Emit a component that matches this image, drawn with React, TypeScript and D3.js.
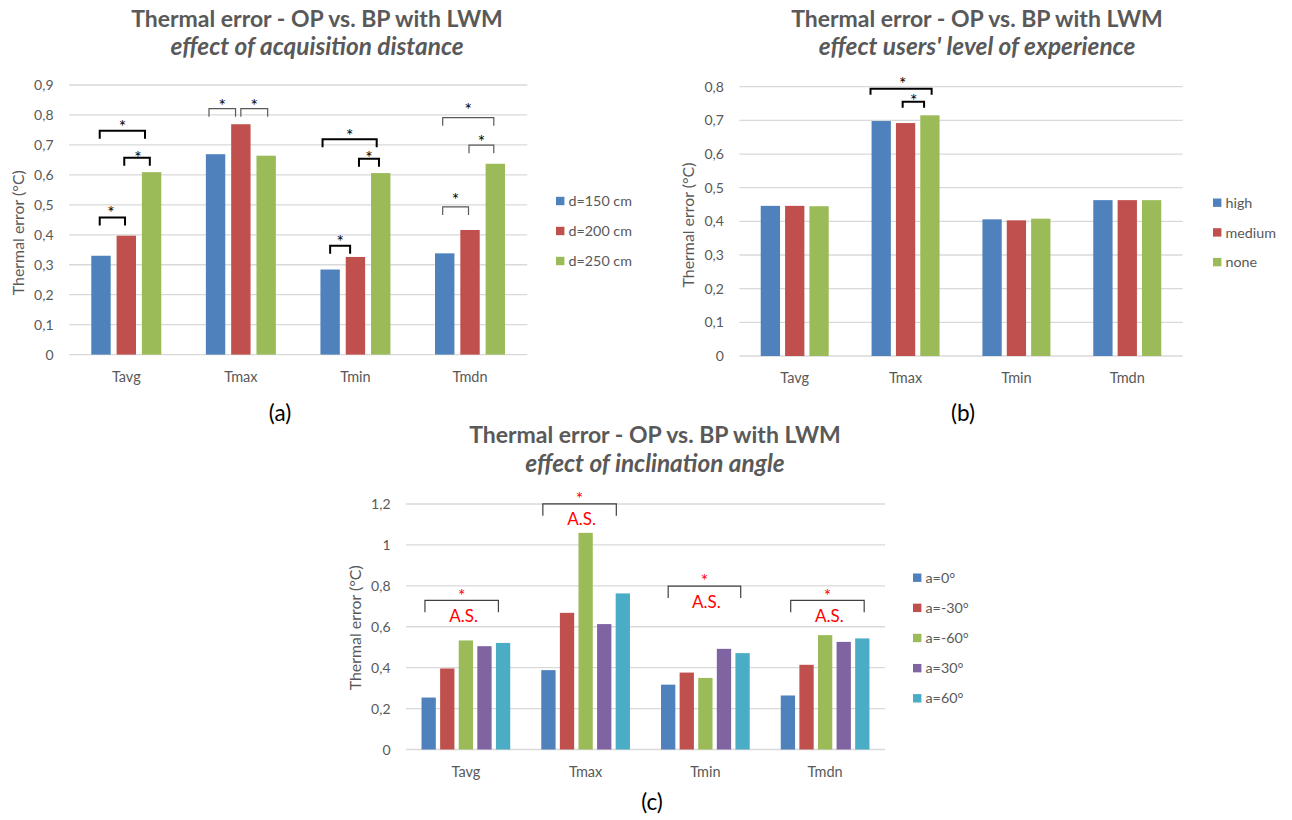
import React from 'react';
import * as d3 from 'd3';

// Shared categories
const categories = ['Tavg', 'Tmax', 'Tmin', 'Tmdn'];

// (a) effect of acquisition distance
const distanceSeries = ['d=150 cm', 'd=200 cm', 'd=250 cm'];
const distance150 = [0.33, 0.669, 0.284, 0.338];
const distance200 = [0.397, 0.769, 0.326, 0.416];
const distance250 = [0.609, 0.664, 0.606, 0.637];
const distanceTicks = [0, 0.1, 0.2, 0.3, 0.4, 0.5, 0.6, 0.7, 0.8, 0.9];

// (b) effect of users' level of experience
const experienceSeries = ['high', 'medium', 'none'];
const experienceHigh = [0.446, 0.698, 0.406, 0.463];
const experienceMedium = [0.446, 0.692, 0.403, 0.463];
const experienceNone = [0.445, 0.715, 0.408, 0.463];
const experienceTicks = [0, 0.1, 0.2, 0.3, 0.4, 0.5, 0.6, 0.7, 0.8];

// (c) effect of inclination angle
const angleSeries = ['a=0°', 'a=-30°', 'a=-60°', 'a=30°', 'a=60°'];
const angle0 = [0.254, 0.388, 0.317, 0.264];
const angleMinus30 = [0.396, 0.668, 0.376, 0.414];
const angleMinus60 = [0.533, 1.059, 0.35, 0.559];
const angle30 = [0.505, 0.613, 0.492, 0.526];
const angle60 = [0.521, 0.763, 0.471, 0.543];
const angleTicks = [0, 0.2, 0.4, 0.6, 0.8, 1, 1.2];

// Significance brackets: category, span in bar positions (0 = first bar), bracket level and star level (°C)
type Bracket = { cat: string; from: number; to: number; level: number; star: number; starAt?: number };

const distanceBrackets: Bracket[] = [
  { cat: 'Tavg', from: -0.05, to: 0.95, level: 0.458, star: 0.486, starAt: 0.39 },
  { cat: 'Tavg', from: -0.05, to: 1.74, level: 0.747, star: 0.773 },
  { cat: 'Tavg', from: 0.92, to: 1.93, level: 0.657, star: 0.67, starAt: 1.46 },
  { cat: 'Tmax', from: -0.26, to: 0.79, level: 0.821, star: 0.842 },
  { cat: 'Tmax', from: 1.0, to: 2.06, level: 0.821, star: 0.842 },
  { cat: 'Tmin', from: -0.3, to: 1.84, level: 0.719, star: 0.744 },
  { cat: 'Tmin', from: 1.14, to: 1.93, level: 0.654, star: 0.67 },
  { cat: 'Tmin', from: 0, to: 0.79, level: 0.363, star: 0.39 },
  { cat: 'Tmdn', from: -0.08, to: 1.94, level: 0.791, star: 0.83 },
  { cat: 'Tmdn', from: 0.96, to: 1.94, level: 0.699, star: 0.724 },
  { cat: 'Tmdn', from: -0.08, to: 0.94, level: 0.493, star: 0.53 },
];

const experienceBrackets: Bracket[] = [
  { cat: 'Tmax', from: -0.44, to: 2.07, level: 0.794, star: 0.82, starAt: 0.88 },
  { cat: 'Tmax', from: 0.88, to: 1.76, level: 0.755, star: 0.768, starAt: 1.33 },
];

const angleBrackets: Bracket[] = [
  { cat: 'Tavg', from: -0.2, to: 3.75, level: 0.729, star: 0.772 },
  { cat: 'Tmax', from: -0.3, to: 3.65, level: 1.201, star: 1.244 },
  { cat: 'Tmin', from: 0, to: 3.9, level: 0.799, star: 0.842 },
  { cat: 'Tmdn', from: 0.15, to: 4.1, level: 0.729, star: 0.772 },
];
const angleNote = 'A.S.';

const PALETTE = ['#4f81bd', '#c0504d', '#9bbb59', '#8064a2', '#4bacc6'];
const FONT = "Lato, 'Open Sans', sans-serif";
const TEXT = '#595959';
const GRID = '#d9d9d9';

const decimalComma = d3.formatLocale({
  decimal: ',',
  thousands: '.',
  grouping: [3],
  currency: ['', ''],
});
const fmt = decimalComma.format('~g');

type PanelProps = {
  title: string;
  subtitle: string;
  titleX: number;
  titleY: number;
  series: string[];
  values: number[][];
  yMax: number;
  ticks: number[];
  left: number;
  right: number;
  y0: number;
  yTop: number;
  barW: number;
  barStep: number;
  yTitleY: number;
  legendX: number;
  legendY: number;
  legendStep: number;
  brackets: Bracket[];
  tickLen: number;
  heavyCats?: string[];
  red?: boolean;
  label: string;
  labelX: number;
  labelY: number;
};

function Panel(p: PanelProps) {
  const x = d3.scaleBand<string>().domain(categories).range([p.left, p.right]).padding(0);
  const y = d3.scaleLinear().domain([0, p.yMax]).range([p.y0, p.yTop]);
  const n = p.series.length;
  const pos = (cat: string, i: number) =>
    (x(cat) as number) + x.bandwidth() / 2 + (i - (n - 1) / 2) * p.barStep;

  return (
    <g fontFamily={FONT}>
      {/* titles */}
      <text x={p.titleX} y={p.titleY} textAnchor="middle" fontSize={23} fontWeight={700} fill={TEXT}>
        {p.title}
      </text>
      <text
        x={p.titleX}
        y={p.titleY + 28.5}
        textAnchor="middle"
        fontSize={24.4}
        fontWeight={700}
        fontStyle="italic"
        fill={TEXT}
      >
        {p.subtitle}
      </text>

      {/* gridlines and tick labels */}
      {p.ticks.map((t) => (
        <g key={t}>
          <line x1={p.left} x2={p.right} y1={y(t)} y2={y(t)} stroke={GRID} strokeWidth={1.3} />
          <text x={p.left - 15.5} y={y(t)} dy="0.36em" textAnchor="end" fontSize={14} fill={TEXT}>
            {fmt(t)}
          </text>
        </g>
      ))}

      {/* axis title */}
      <text
        transform={`translate(${p.left - 50.5},${p.yTitleY}) rotate(-90)`}
        textAnchor="middle"
        dy="0.35em"
        fontSize={15.9}
        fill={TEXT}
      >
        Thermal error (°C)
      </text>

      {/* bars */}
      {p.series.map((s, i) =>
        categories.map((c, j) => {
          const v = p.values[i][j];
          return (
            <rect
              key={s + c}
              x={pos(c, i) - p.barW / 2}
              y={y(v)}
              width={p.barW}
              height={y(0) - y(v)}
              fill={PALETTE[i]}
            />
          );
        })
      )}

      {/* category labels */}
      {categories.map((c) => (
        <text
          key={c}
          x={(x(c) as number) + x.bandwidth() / 2}
          y={p.y0 + 27}
          textAnchor="middle"
          fontSize={14.5}
          fill={TEXT}
        >
          {c}
        </text>
      ))}

      {/* significance brackets */}
      {p.brackets.map((b, k) => {
        const x1 = pos(b.cat, b.from);
        const x2 = pos(b.cat, b.to);
        const yl = y(b.level);
        const heavy = p.heavyCats ? p.heavyCats.includes(b.cat) : false;
        const sx = b.starAt !== undefined ? pos(b.cat, b.starAt) : (x1 + x2) / 2;
        return (
          <g key={k}>
            <path
              d={`M${x1},${yl + p.tickLen}V${yl}H${x2}V${yl + p.tickLen}`}
              fill="none"
              stroke={p.red ? '#404040' : heavy ? '#000' : '#595959'}
              strokeWidth={heavy ? 2 : 1.2}
            />
            <text
              x={sx}
              y={y(b.star) + 10}
              textAnchor="middle"
              fontSize={17.5}
              fill={p.red ? '#ff0000' : '#000'}
            >
              *
            </text>
            {p.red && (
              <text x={(x1 + x2) / 2 + 2} y={yl + 21.5} textAnchor="middle" fontSize={17} fill="#ff0000">
                {angleNote}
              </text>
            )}
          </g>
        );
      })}

      {/* legend */}
      {p.series.map((s, i) => (
        <g key={s} transform={`translate(${p.legendX},${p.legendY + i * p.legendStep})`}>
          <rect x={0} y={-4.2} width={8.4} height={8.4} fill={PALETTE[i]} />
          <text x={12.5} y={0} dy="0.36em" fontSize={14.3} fill={TEXT}>
            {s}
          </text>
        </g>
      ))}

      {/* panel tag */}
      <text x={p.labelX} y={p.labelY} textAnchor="middle" fontSize={22.5} fill="#000">
        {p.label}
      </text>
    </g>
  );
}

export default function App() {
  return (
    <svg
      width={1292}
      height={820}
      style={{ position: 'absolute', left: 0, top: 0, background: '#fff' }}
    >
      <rect width={1292} height={820} fill="#fff" />
      <Panel
        title="Thermal error - OP vs. BP with LWM"
        subtitle="effect of acquisition distance"
        titleX={317}
        titleY={26.5}
        series={distanceSeries}
        values={[distance150, distance200, distance250]}
        yMax={0.9}
        ticks={distanceTicks}
        left={69}
        right={527.3}
        y0={354.6}
        yTop={85}
        barW={19.4}
        barStep={25.3}
        yTitleY={232.7}
        legendX={556}
        legendY={201}
        legendStep={30}
        brackets={distanceBrackets}
        tickLen={8}
        heavyCats={['Tavg', 'Tmin']}
        label="(a)"
        labelX={280}
        labelY={421}
      />
      <Panel
        title="Thermal error - OP vs. BP with LWM"
        subtitle="effect users' level of experience"
        titleX={977}
        titleY={26.5}
        series={experienceSeries}
        values={[experienceHigh, experienceMedium, experienceNone]}
        yMax={0.8}
        ticks={experienceTicks}
        left={739.3}
        right={1182.7}
        y0={356}
        yTop={86.7}
        barW={19.3}
        barStep={24.35}
        yTitleY={225}
        legendX={1213}
        legendY={202.7}
        legendStep={29.7}
        brackets={experienceBrackets}
        tickLen={6}
        heavyCats={['Tmax']}
        label="(b)"
        labelX={963}
        labelY={421}
      />
      <Panel
        title="Thermal error - OP vs. BP with LWM"
        subtitle="effect of inclination angle"
        titleX={655}
        titleY={443.3}
        series={angleSeries}
        values={[angle0, angleMinus30, angleMinus60, angle30, angle60]}
        yMax={1.2}
        ticks={angleTicks}
        left={406}
        right={885}
        y0={749.5}
        yTop={504}
        barW={14.3}
        barStep={18.6}
        yTitleY={627.8}
        legendX={913}
        legendY={577.7}
        legendStep={30.15}
        brackets={angleBrackets}
        tickLen={12}
        red
        label="(c)"
        labelX={652}
        labelY={810}
      />
    </svg>
  );
}
